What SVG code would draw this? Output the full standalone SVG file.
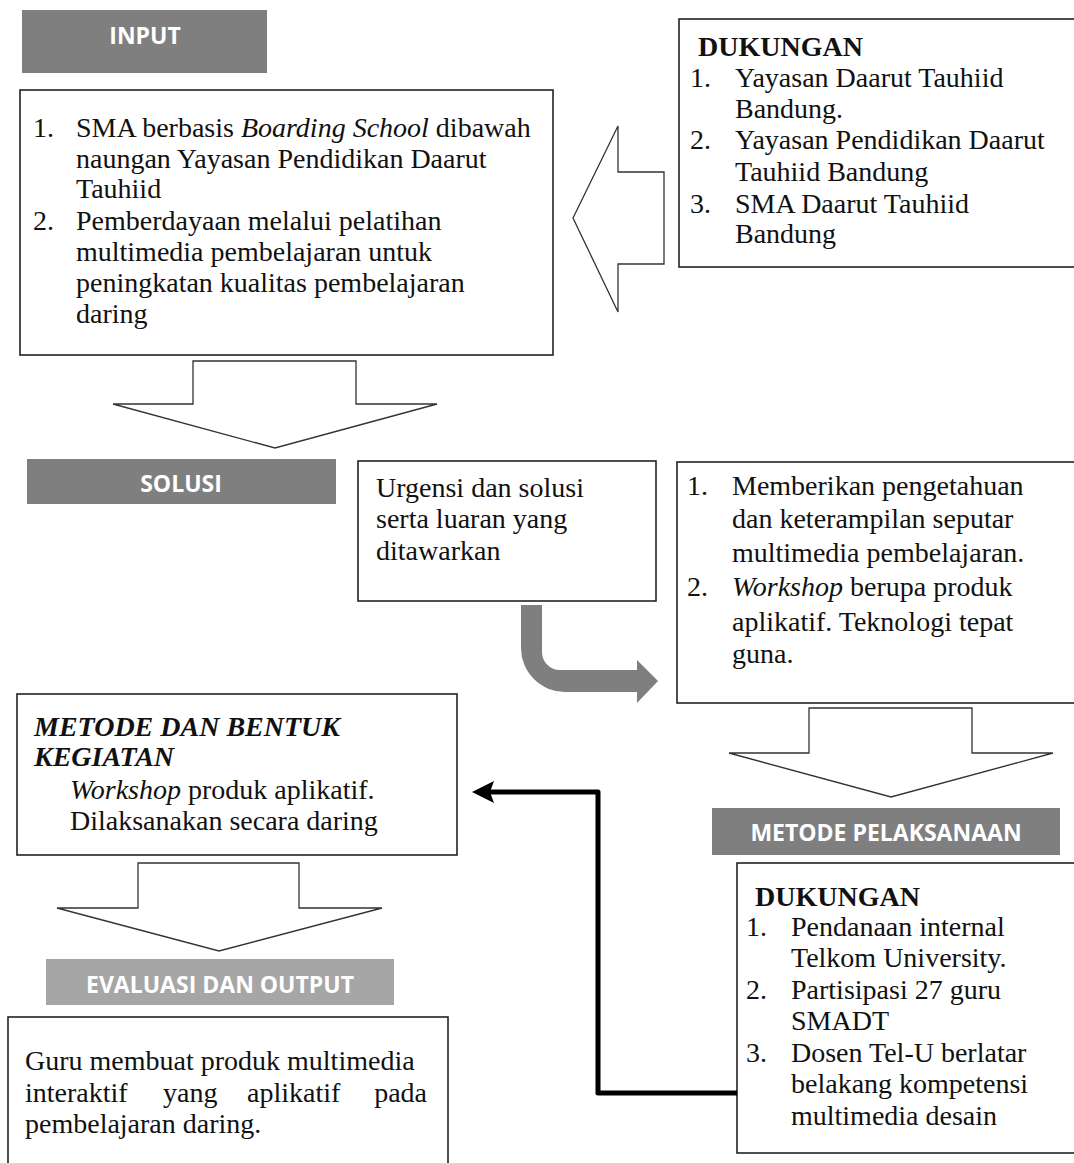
<svg xmlns="http://www.w3.org/2000/svg" width="1074" height="1163" viewBox="0 0 1074 1163">
<style>
.box{fill:#fff;stroke:#222;stroke-width:1.6}
.hdr{fill:#7f7f7f}
.hdr2{fill:#a6a6a6}
.ht{font-family:"Open Sans","Liberation Sans",sans-serif;font-weight:700;font-size:23px;fill:#fff;text-anchor:middle}
.t{font-family:"Liberation Serif","Times New Roman",serif;font-size:28px;fill:#111}
.b{font-weight:700}
.i{font-style:italic}
.hollow{fill:#fff;stroke:#333;stroke-width:1.3;stroke-linejoin:miter}
.grey{fill:#7f7f7f}
.conn{fill:none;stroke:#000;stroke-width:5;stroke-linejoin:round}
</style>
<defs>
<marker id="ah" markerUnits="userSpaceOnUse" markerWidth="24" markerHeight="24" refX="4" refY="11" orient="auto">
<path d="M22 11 L0 0 L4 11 L0 22 Z" fill="#000"/>
</marker>
</defs>
<rect width="1074" height="1163" fill="#fff"/>

<g id="input-header">
<rect class="hdr" x="22" y="10" width="245" height="63"/>
<text class="ht" x="145" y="44">INPUT</text>
</g>

<g id="input-box">
<rect class="box" x="20" y="90" width="533" height="265"/>
<text class="t" x="33" y="137">1.</text>
<text class="t" x="76" y="137">SMA berbasis <tspan class="i">Boarding School</tspan> dibawah</text>
<text class="t" x="76" y="168">naungan Yayasan Pendidikan Daarut</text>
<text class="t" x="76" y="198">Tauhiid</text>
<text class="t" x="33" y="230">2.</text>
<text class="t" x="76" y="230">Pemberdayaan melalui pelatihan</text>
<text class="t" x="76" y="261">multimedia pembelajaran untuk</text>
<text class="t" x="76" y="292">peningkatan kualitas pembelajaran</text>
<text class="t" x="76" y="323">daring</text>
</g>

<g id="dukungan-top">
<rect class="box" x="679" y="19" width="400" height="248"/>
<text class="t b" x="698" y="56">DUKUNGAN</text>
<text class="t" x="690" y="87">1.</text>
<text class="t" x="735" y="87">Yayasan Daarut Tauhiid</text>
<text class="t" x="735" y="118">Bandung.</text>
<text class="t" x="690" y="149">2.</text>
<text class="t" x="735" y="149">Yayasan Pendidikan Daarut</text>
<text class="t" x="735" y="181">Tauhiid Bandung</text>
<text class="t" x="690" y="213">3.</text>
<text class="t" x="735" y="213">SMA Daarut Tauhiid</text>
<text class="t" x="735" y="243">Bandung</text>
</g>

<g id="solusi-header">
<rect class="hdr" x="27" y="459" width="309" height="45"/>
<text class="ht" x="181" y="492">SOLUSI</text>
</g>

<g id="urgensi-box">
<rect class="box" x="358" y="461" width="298" height="140"/>
<text class="t" x="376" y="497">Urgensi dan solusi</text>
<text class="t" x="376" y="528">serta luaran yang</text>
<text class="t" x="376" y="560">ditawarkan</text>
</g>

<g id="solusi-box">
<rect class="box" x="677" y="462" width="402" height="241"/>
<text class="t" x="687" y="495">1.</text>
<text class="t" x="732" y="495">Memberikan pengetahuan</text>
<text class="t" x="732" y="528">dan keterampilan seputar</text>
<text class="t" x="732" y="562">multimedia pembelajaran.</text>
<text class="t" x="687" y="596">2.</text>
<text class="t" x="732" y="596"><tspan class="i">Workshop</tspan> berupa produk</text>
<text class="t" x="732" y="631">aplikatif. Teknologi tepat</text>
<text class="t" x="732" y="663">guna.</text>
</g>

<g id="metode-pelaksanaan-header">
<rect class="hdr" x="712" y="808" width="348" height="47"/>
<text class="ht" x="886" y="841">METODE PELAKSANAAN</text>
</g>

<g id="dukungan-bottom">
<rect class="box" x="737" y="863" width="342" height="290"/>
<text class="t b" x="755" y="906">DUKUNGAN</text>
<text class="t" x="746" y="936">1.</text>
<text class="t" x="791" y="936">Pendanaan internal</text>
<text class="t" x="791" y="967">Telkom University.</text>
<text class="t" x="746" y="999">2.</text>
<text class="t" x="791" y="999">Partisipasi 27 guru</text>
<text class="t" x="791" y="1030">SMADT</text>
<text class="t" x="746" y="1062">3.</text>
<text class="t" x="791" y="1062">Dosen Tel-U berlatar</text>
<text class="t" x="791" y="1093">belakang kompetensi</text>
<text class="t" x="791" y="1125">multimedia desain</text>
</g>

<g id="metode-kegiatan-box">
<rect class="box" x="17" y="694" width="440" height="161"/>
<text class="t b i" x="34" y="736">METODE DAN BENTUK</text>
<text class="t b i" x="34" y="766">KEGIATAN</text>
<text class="t" x="70" y="799"><tspan class="i">Workshop</tspan> produk aplikatif.</text>
<text class="t" x="70" y="830">Dilaksanakan secara daring</text>
</g>

<g id="evaluasi-header">
<rect class="hdr2" x="46" y="959" width="348" height="46"/>
<text class="ht" x="220" y="993">EVALUASI DAN OUTPUT</text>
</g>

<g id="output-box">
<rect class="box" x="8" y="1017" width="440" height="160"/>
<text class="t" x="25" y="1070">Guru membuat produk multimedia</text>
<text class="t" x="25" y="1102">interaktif</text>
<text class="t" x="163" y="1102">yang</text>
<text class="t" x="247" y="1102">aplikatif</text>
<text class="t" x="427" y="1102" text-anchor="end">pada</text>
<text class="t" x="25" y="1133">pembelajaran daring.</text>
</g>

<g id="connectors">
<polygon class="hollow" points="573,218 618,126 618,172 664,172 664,264 618,264 618,312"/>
<polygon class="hollow" points="193,361 356,361 356,404 437,404 275,448 113,404 193,404"/>
<polygon class="hollow" points="809,708 972,708 972,753 1053,753 891,797 729,753 809,753"/>
<polygon class="hollow" points="138,863 299,863 299,908 382,908 219,951 57,908 138,908"/>
<path class="grey" d="M521 605 L542 605 L542 652 A18 18 0 0 0 560 670 L637 670 L637 660 L658 681 L637 703 L637 692 L565 692 A44 44 0 0 1 521 648 Z"/>
<path class="conn" d="M737 1093 L598 1093 L598 792 L490 792" marker-end="url(#ah)"/>
</g>
</svg>
